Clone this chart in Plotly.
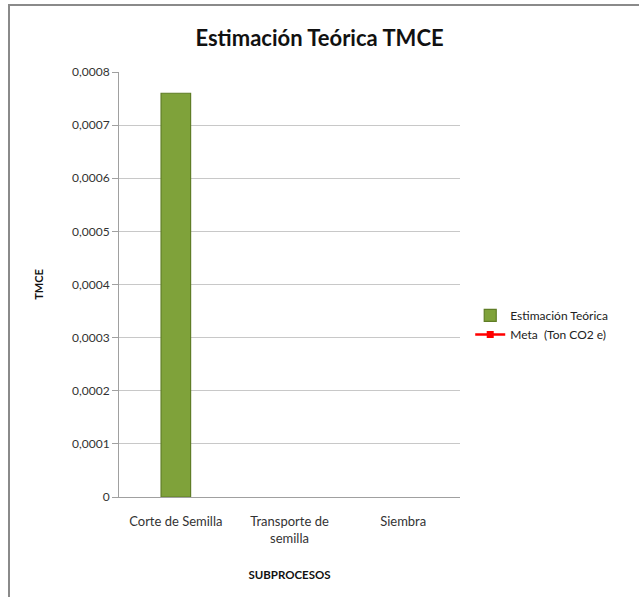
import plotly.graph_objects as go

# Data
subprocesos = ["Corte de Semilla", "Transporte de<br>semilla", "Siembra"]
estimacion_teorica = [0.00076, None, None]
meta_ton_co2e = [None, None, None]
y_ticks = [0, 0.0001, 0.0002, 0.0003, 0.0004, 0.0005, 0.0006, 0.0007, 0.0008]
y_tick_labels = ["0", "0,0001", "0,0002", "0,0003", "0,0004", "0,0005", "0,0006", "0,0007", "0,0008"]

FONT = "Lato, Open Sans, sans-serif"

fig = go.Figure()
fig.add_trace(go.Bar(
    x=subprocesos, y=estimacion_teorica, name="Estimación Teórica",
    marker=dict(color="#7fa23a", line=dict(color="#5f7d26", width=1.2)),
))
fig.add_trace(go.Scatter(
    x=subprocesos, y=meta_ton_co2e, name="Meta  (Ton CO2 e)",
    mode="lines+markers",
    line=dict(color="#ff0000", width=2.5),
    marker=dict(symbol="square", size=7, color="#ff0000"),
))

fig.update_layout(
    width=639, height=597,
    margin=dict(l=119, r=179, t=72, b=100),
    paper_bgcolor="white", plot_bgcolor="white",
    font=dict(family=FONT, size=12, color="#222222"),
    title=dict(text="<b>Estimación Teórica TMCE</b>", x=0.5, xanchor="center",
               y=1 - 38 / 597, yanchor="middle",
               font=dict(family=FONT, size=22, color="#111111")),
    bargap=0.74,
    showlegend=True,
    legend=dict(x=1.03, y=0.405, xanchor="left", yanchor="middle",
                font=dict(family=FONT, size=12, color="#222222"),
                itemwidth=30),
    xaxis=dict(
        showline=True, linecolor="#a0a0a0", linewidth=1,
        ticks="", showgrid=False,
        tickfont=dict(size=13, color="#333333"),
        ticklabelstandoff=12,
        title=dict(text="<b>SUBPROCESOS</b>", font=dict(size=11.5, color="#111111"), standoff=26),
    ),
    yaxis=dict(
        range=[0, 0.0008], tickvals=y_ticks, ticktext=y_tick_labels,
        showline=True, linecolor="#a0a0a0", linewidth=1,
        ticks="outside", ticklen=6, tickcolor="#a0a0a0",
        showgrid=True, gridcolor="#c8c8c8", gridwidth=1,
        zeroline=False,
        tickfont=dict(size=12, color="#333333"),
        title=dict(text="<b>TMCE</b>", font=dict(size=11, color="#111111"), standoff=26),
    ),
    shapes=[
        dict(type="rect", xref="paper", yref="paper",
             x0=-110 / 341, x1=(639 - 119 + 20) / 341, y0=-120 / 425, y1=(72 - 5) / 425 + 1,
             line=dict(color="#8a8a8a", width=2), fillcolor="rgba(0,0,0,0)", layer="below"),
    ],
)

fig.write_html("out.html")
